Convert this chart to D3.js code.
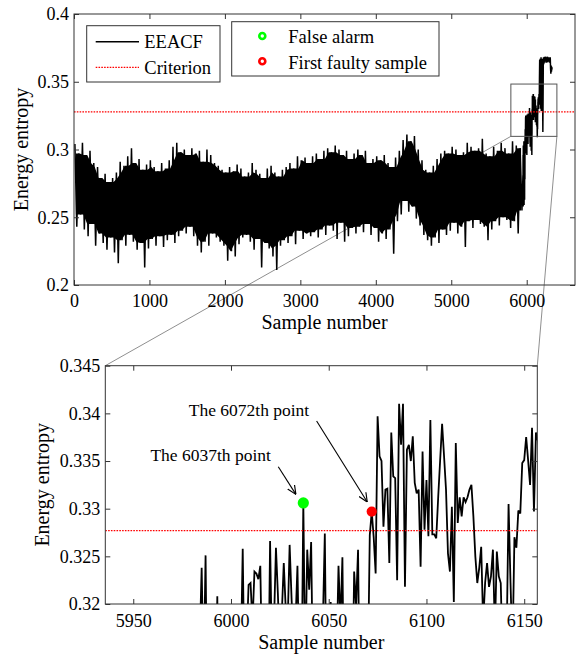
<!DOCTYPE html>
<html>
<head>
<meta charset="utf-8">
<script src="https://cdn.jsdelivr.net/npm/d3@7"></script>
<style>
  body { margin: 0; background: #fff; }
  svg text { font-family: "Liberation Serif", "Times New Roman", serif; fill: #000; }
</style>
</head>
<body>
<svg id="chart" width="577" height="657"></svg>
<script>
// ---------------- data ----------------
// EEACF over the normal operating period, summarised per 50-sample block
// as the block maximum (envelopeHi) and minimum (envelopeLo).
const binSize = 50;
const envelopeHi = [
  0.304, 0.297, 0.305, 0.296, 0.299, 0.290, 0.287, 0.279, 0.282, 0.276,
  0.279, 0.283, 0.291, 0.288, 0.295, 0.301, 0.290, 0.293, 0.285, 0.289,
  0.292, 0.287, 0.284, 0.290, 0.286, 0.292, 0.302, 0.305, 0.298, 0.300,
  0.296, 0.301, 0.297, 0.299, 0.291, 0.300, 0.296, 0.290, 0.288, 0.285,
  0.283, 0.287, 0.284, 0.289, 0.286, 0.280, 0.283, 0.290, 0.285, 0.282,
  0.279, 0.286, 0.288, 0.283, 0.280, 0.285, 0.287, 0.290, 0.286, 0.295,
  0.292, 0.294, 0.290, 0.295, 0.297, 0.293, 0.299, 0.301, 0.298, 0.303,
  0.300, 0.296, 0.299, 0.293, 0.297, 0.300, 0.296, 0.299, 0.290, 0.293,
  0.295, 0.292, 0.296, 0.290, 0.287, 0.294, 0.299, 0.307, 0.311, 0.306,
  0.310, 0.300, 0.292, 0.285, 0.283, 0.288, 0.293, 0.297, 0.299, 0.297,
  0.302, 0.300, 0.296, 0.298, 0.305, 0.302, 0.299, 0.301, 0.308, 0.297,
  0.295, 0.302, 0.299, 0.305, 0.301, 0.297, 0.306, 0.303, 0.301
];
const envelopeLo = [
  0.243, 0.252, 0.241, 0.236, 0.245, 0.229, 0.238, 0.231, 0.226, 0.235,
  0.224, 0.216, 0.233, 0.229, 0.237, 0.232, 0.226, 0.231, 0.213, 0.227,
  0.234, 0.229, 0.236, 0.228, 0.233, 0.237, 0.231, 0.236, 0.240, 0.238,
  0.243, 0.236, 0.229, 0.224, 0.232, 0.229, 0.238, 0.235, 0.232, 0.229,
  0.218, 0.225, 0.221, 0.230, 0.235, 0.237, 0.232, 0.226, 0.234, 0.213,
  0.231, 0.227, 0.221, 0.211, 0.229, 0.233, 0.231, 0.236, 0.230, 0.240,
  0.234, 0.238, 0.236, 0.239, 0.235, 0.241, 0.237, 0.244, 0.240, 0.234,
  0.246, 0.232, 0.236, 0.242, 0.238, 0.243, 0.239, 0.245, 0.237, 0.242,
  0.232, 0.238, 0.234, 0.241, 0.223, 0.247, 0.252, 0.262, 0.254, 0.258,
  0.249, 0.244, 0.237, 0.233, 0.229, 0.235, 0.231, 0.241, 0.237, 0.240,
  0.246, 0.238, 0.243, 0.228, 0.247, 0.242, 0.248, 0.245, 0.243, 0.233,
  0.241, 0.247, 0.244, 0.250, 0.248, 0.242, 0.247, 0.238, 0.255
];

// Sample-by-sample EEACF from sample 5950 to 6156 (ten samples per row).
const detailStart = 5950;
const detailValues = [
  0.281, 0.262, 0.296, 0.258, 0.289, 0.303, 0.270, 0.264, 0.292, 0.277,      // 5950
  0.299, 0.266, 0.284, 0.306, 0.271, 0.259, 0.288, 0.295, 0.268, 0.280,      // 5960
  0.302, 0.275, 0.263, 0.293, 0.285, 0.300, 0.278, 0.305, 0.309, 0.302,      // 5970
  0.315, 0.298, 0.311, 0.305, 0.316, 0.3238, 0.312, 0.3251, 0.305, 0.313,    // 5980
  0.300, 0.317, 0.309, 0.3208, 0.303, 0.314, 0.297, 0.311, 0.306, 0.318,     // 5990
  0.301, 0.312, 0.296, 0.315, 0.308, 0.314, 0.3258, 0.310, 0.316, 0.3220,    // 6000
  0.3222, 0.318, 0.3234, 0.3232, 0.3226, 0.3240, 0.312, 0.304, 0.316, 0.309, // 6010
  0.3266, 0.314, 0.318, 0.3259, 0.3210, 0.315, 0.319, 0.3243, 0.3195, 0.318, // 6020
  0.3262, 0.3205, 0.316, 0.318, 0.3240, 0.312, 0.309, 0.3306, 0.313, 0.3257, // 6030
  0.3215, 0.3265, 0.311, 0.317, 0.305, 0.314, 0.302, 0.318, 0.3274, 0.307,   // 6040
  0.315, 0.3202, 0.310, 0.303, 0.314, 0.3240, 0.318, 0.3249, 0.306, 0.312,   // 6050
  0.299, 0.316, 0.308, 0.3234, 0.3198, 0.3257, 0.307, 0.313, 0.296, 0.310,   // 6060
  0.312, 0.3272, 0.3297, 0.3270, 0.3232, 0.3397, 0.3355, 0.3350, 0.3281, 0.3320, // 6070
  0.3321, 0.3243, 0.3380, 0.3334, 0.3332, 0.3225, 0.3410, 0.3367, 0.3410, 0.3218, // 6080
  0.3362, 0.3367, 0.3350, 0.3376, 0.3327, 0.3316, 0.3320, 0.3239, 0.3360, 0.3278, // 6090
  0.3330, 0.3271, 0.3393, 0.3273, 0.3273, 0.3269, 0.3312, 0.3351, 0.3389, 0.3355, // 6100
  0.3320, 0.3253, 0.3234, 0.3302, 0.3202, 0.3369, 0.3285, 0.3312, 0.3292, 0.3312, // 6110
  0.3307, 0.3312, 0.3320, 0.3325, 0.3292, 0.3250, 0.3222, 0.3238, 0.3260, 0.318,  // 6120
  0.3222, 0.3243, 0.3218, 0.3229, 0.3257, 0.317, 0.3255, 0.3229, 0.3222, 0.314,   // 6130
  0.309, 0.316, 0.3305, 0.3222, 0.315, 0.3270, 0.3259, 0.3298, 0.3295, 0.3348,    // 6140
  0.3351, 0.3375, 0.3351, 0.3325, 0.3385, 0.3297, 0.3380                           // 6150
];

// Faulty period after sample 6156.
const tailSamples = [
  6160, 6163, 6166, 6169, 6172, 6175, 6178, 6181, 6184, 6187,
  6190, 6193, 6196, 6199, 6202, 6205, 6208, 6211, 6214, 6217,
  6220, 6223, 6226, 6229, 6232, 6236, 6240, 6244, 6248, 6252,
  6256, 6260, 6264, 6268, 6272, 6276, 6280, 6284, 6288, 6292,
  6296, 6300, 6304, 6308, 6312, 6316, 6320, 6324, 6328, 6332, 6336
];
const tailValues = [
  0.3345, 0.3410, 0.3330, 0.3520, 0.3660, 0.3440, 0.3670, 0.3300, 0.3650, 0.3350,
  0.3680, 0.3285, 0.3640, 0.3460, 0.3670, 0.3620, 0.3660, 0.3400, 0.3130, 0.3380,
  0.3650, 0.3680, 0.3630, 0.3670, 0.3655, 0.3685, 0.3640, 0.3670, 0.3660, 0.3685,
  0.3650, 0.3675, 0.3640, 0.3680, 0.3660, 0.3685, 0.3645, 0.3670, 0.3655, 0.3680,
  0.3650, 0.3675, 0.3640, 0.3665, 0.3680, 0.3600, 0.3560, 0.3620, 0.3575, 0.3610, 0.3590
];

const criterion = 0.3277;
const falseAlarmSample = 6037;
const firstFaultSample = 6072;

// axis ticks
const topXTicks = [0, 1000, 2000, 3000, 4000, 5000, 6000];
const topYTicks = [0.2, 0.25, 0.3, 0.35, 0.4];
const botXTicks = [5950, 6000, 6050, 6100, 6150];
const botYTicks = [0.32, 0.325, 0.33, 0.335, 0.34, 0.345];

// region of the upper plot enlarged below: [sample range], [value range]
const zoomSamples = [5790, 6400];
const zoomValues = [0.3097, 0.3483];

// ---------------- build series ----------------
const series = [];
envelopeHi.forEach((hi, i) => {
  const start = i * binSize;
  series.push([start + 12, hi]);
  series.push([start + 37, envelopeLo[i]]);
});
detailValues.forEach((v, i) => series.push([detailStart + i, v]));
tailSamples.forEach((s, i) => series.push([s, tailValues[i]]));

// Densely overplotted part of the trace: between neighbouring blocks the line
// is certain to sweep from the lowest of their maxima to the highest of their minima.
const coreBand = envelopeHi.map((hi, i) => {
  const j0 = Math.max(0, i - 1), j1 = Math.min(envelopeHi.length - 1, i + 1);
  const top = Math.min(envelopeHi[j0], hi, envelopeHi[j1]);
  const bot = Math.max(envelopeLo[j0], envelopeLo[i], envelopeLo[j1]);
  return [i * binSize + 25, top, bot];
});

const valueAt = s => detailValues[s - detailStart];

// ---------------- layout ----------------
const svg = d3.select("#chart");
const topBox = { left: 74, right: 575, top: 14, bottom: 285 };
const botBox = { left: 105.3, right: 537.3, top: 365.7, bottom: 604 };

const xTop = d3.scaleLinear().domain([0, 6640]).range([topBox.left, topBox.right]);
const yTop = d3.scaleLinear().domain([0.2, 0.4]).range([topBox.bottom, topBox.top]);
const xBot = d3.scaleLinear().domain([5935.7, 6156.7]).range([botBox.left, botBox.right]);
const yBot = d3.scaleLinear().domain([0.32, 0.345]).range([botBox.bottom, botBox.top]);

const fmt = d => String(+d.toFixed(3));
const frameColor = "#333";
const serif = "Liberation Serif, Times New Roman, serif";

const defs = svg.append("defs");
defs.append("clipPath").attr("id", "clipTop").append("rect")
  .attr("x", topBox.left).attr("y", topBox.top)
  .attr("width", topBox.right - topBox.left).attr("height", topBox.bottom - topBox.top);
defs.append("clipPath").attr("id", "clipBot").append("rect")
  .attr("x", botBox.left).attr("y", botBox.top)
  .attr("width", botBox.right - botBox.left).attr("height", botBox.bottom - botBox.top);
defs.append("marker").attr("id", "arrowHead")
  .attr("viewBox", "0 0 10 10").attr("refX", 10).attr("refY", 5)
  .attr("markerWidth", 9).attr("markerHeight", 9).attr("markerUnits", "userSpaceOnUse")
  .attr("orient", "auto")
  .append("path").attr("d", "M0,0.5 L10,5 L0,9.5").attr("fill", "none")
  .attr("stroke", "#000").attr("stroke-width", 1.3);

// connector lines from the zoom box to the enlarged plot (under the data)
const connectors = [
  [[xTop(zoomSamples[0]), yTop(zoomValues[0])], [botBox.left, botBox.top]],
  [[xTop(zoomSamples[1]), yTop(zoomValues[0])], [botBox.right, botBox.top]]
];
svg.append("g").selectAll("line").data(connectors).join("line")
  .attr("x1", d => d[0][0]).attr("y1", d => d[0][1])
  .attr("x2", d => d[1][0]).attr("y2", d => d[1][1])
  .attr("stroke", "#8f8f8f").attr("stroke-width", 1);

function drawAxes(box, x, y, xTicks, yTicks, padX) {
  const g = svg.append("g");
  const axes = [
    g.append("g").attr("transform", `translate(0,${box.bottom})`)
      .call(d3.axisBottom(x).tickValues(xTicks).tickSizeInner(-5).tickSizeOuter(0)
        .tickPadding(padX).tickFormat(fmt)),
    g.append("g").attr("transform", `translate(0,${box.top})`)
      .call(d3.axisTop(x).tickValues(xTicks).tickSizeInner(-5).tickSizeOuter(0).tickFormat("")),
    g.append("g").attr("transform", `translate(${box.left},0)`)
      .call(d3.axisLeft(y).tickValues(yTicks).tickSizeInner(-5).tickSizeOuter(0)
        .tickPadding(5).tickFormat(fmt)),
    g.append("g").attr("transform", `translate(${box.right},0)`)
      .call(d3.axisRight(y).tickValues(yTicks).tickSizeInner(-5).tickSizeOuter(0).tickFormat(""))
  ];
  axes.forEach(a => a.attr("font-size", 18).attr("font-family", serif));
  g.selectAll(".domain").remove();
  g.selectAll(".tick line").attr("stroke", frameColor);
  g.selectAll(".tick text").attr("fill", "#000");
  g.append("rect").attr("x", box.left).attr("y", box.top)
    .attr("width", box.right - box.left).attr("height", box.bottom - box.top)
    .attr("fill", "none").attr("stroke", frameColor).attr("stroke-width", 1);
  return g;
}

// ---------------- upper plot ----------------
const topData = svg.append("g").attr("clip-path", "url(#clipTop)");
topData.append("path").datum(coreBand)
  .attr("d", d3.area().x(d => xTop(d[0])).y0(d => yTop(d[2])).y1(d => yTop(d[1])))
  .attr("fill", "#000");
topData.append("path").datum(series)
  .attr("d", d3.line().x(d => xTop(d[0])).y(d => yTop(d[1])))
  .attr("fill", "none").attr("stroke", "#000").attr("stroke-width", 1.5);

topData.append("line")
  .attr("x1", topBox.left).attr("x2", topBox.right)
  .attr("y1", yTop(criterion)).attr("y2", yTop(criterion))
  .attr("stroke", "#ff0000").attr("stroke-width", 1.3).attr("stroke-dasharray", "1.6,1.2");

drawAxes(topBox, xTop, yTop, topXTicks, topYTicks, 9.5);

// zoom box
svg.append("rect")
  .attr("x", xTop(zoomSamples[0])).attr("y", yTop(zoomValues[1]))
  .attr("width", xTop(zoomSamples[1]) - xTop(zoomSamples[0]))
  .attr("height", yTop(zoomValues[0]) - yTop(zoomValues[1]))
  .attr("fill", "none").attr("stroke", "#555").attr("stroke-width", 1);

// legends
const leg1 = svg.append("g");
leg1.append("rect").attr("x", 86.7).attr("y", 25.7).attr("width", 133.3).attr("height", 56.3)
  .attr("fill", "#fff").attr("stroke", frameColor);
leg1.append("line").attr("x1", 95.7).attr("x2", 139).attr("y1", 41.7).attr("y2", 41.7)
  .attr("stroke", "#000").attr("stroke-width", 1.4);
leg1.append("line").attr("x1", 95.7).attr("x2", 139).attr("y1", 67.3).attr("y2", 67.3)
  .attr("stroke", "#ff0000").attr("stroke-width", 1.3).attr("stroke-dasharray", "1.6,1.2");
leg1.append("text").attr("x", 144.3).attr("y", 48.3).attr("font-size", 18.5).text("EEACF");
leg1.append("text").attr("x", 144.3).attr("y", 73.8).attr("font-size", 18.5).text("Criterion");

const leg2 = svg.append("g");
leg2.append("rect").attr("x", 231.7).attr("y", 21.7).attr("width", 207.3).attr("height", 54.3)
  .attr("fill", "#fff").attr("stroke", frameColor);
leg2.append("circle").attr("cx", 262.3).attr("cy", 36).attr("r", 3)
  .attr("fill", "#fff").attr("stroke", "#00ff00").attr("stroke-width", 2.6);
leg2.append("circle").attr("cx", 262.3).attr("cy", 61.3).attr("r", 3)
  .attr("fill", "#fff").attr("stroke", "#ff0000").attr("stroke-width", 2.6);
leg2.append("text").attr("x", 288.3).attr("y", 43.3).attr("font-size", 18.5).text("False alarm");
leg2.append("text").attr("x", 288.3).attr("y", 68.6).attr("font-size", 18.5).text("First faulty sample");

// axis titles
svg.append("text").attr("x", (topBox.left + topBox.right) / 2).attr("y", 328.5)
  .attr("text-anchor", "middle").attr("font-size", 20).text("Sample number");
svg.append("text").attr("transform", `translate(27.5,${(topBox.top + topBox.bottom) / 2}) rotate(-90)`)
  .attr("text-anchor", "middle").attr("font-size", 20).text("Energy entropy");

// ---------------- enlarged plot ----------------
const detailSeries = series.filter(d => d[0] >= 5930 && d[0] <= 6160);
const lineBot = d3.line().x(d => xBot(d[0])).y(d => yBot(d[1]));
svg.append("path").datum(detailSeries).attr("clip-path", "url(#clipBot)")
  .attr("d", lineBot).attr("fill", "none").attr("stroke", "#000")
  .attr("stroke-width", 1.8).attr("stroke-linejoin", "miter").attr("stroke-miterlimit", 3);

svg.append("line").attr("clip-path", "url(#clipBot)")
  .attr("x1", botBox.left).attr("x2", botBox.right)
  .attr("y1", yBot(criterion)).attr("y2", yBot(criterion))
  .attr("stroke", "#ff0000").attr("stroke-width", 1.3).attr("stroke-dasharray", "1.6,1.2");

drawAxes(botBox, xBot, yBot, botXTicks, botYTicks, 10);

// alarm markers
svg.append("circle").attr("cx", xBot(falseAlarmSample)).attr("cy", yBot(valueAt(falseAlarmSample)))
  .attr("r", 5.6).attr("fill", "#00ff00");
svg.append("circle").attr("cx", xBot(firstFaultSample)).attr("cy", yBot(valueAt(firstFaultSample)))
  .attr("r", 5.1).attr("fill", "#ff0000");

// annotations: text anchor point and arrow (tail -> head) in data units
const notes = [
  { text: `The ${falseAlarmSample}th point`, at: [5989.6, 0.3350], tail: [6024.2, 0.3344], head: [6033.2, 0.3315] },
  { text: `The ${firstFaultSample}th point`, at: [6009.2, 0.3397], tail: [6043.8, 0.3392], head: [6069.7, 0.3307] }
];
notes.forEach(n => {
  svg.append("text").attr("x", xBot(n.at[0])).attr("y", yBot(n.at[1]))
    .attr("text-anchor", "middle").attr("font-size", 17.5).text(n.text);
  svg.append("line")
    .attr("x1", xBot(n.tail[0])).attr("y1", yBot(n.tail[1]))
    .attr("x2", xBot(n.head[0])).attr("y2", yBot(n.head[1]))
    .attr("stroke", "#000").attr("stroke-width", 1.1).attr("marker-end", "url(#arrowHead)");
});

svg.append("text").attr("x", (botBox.left + botBox.right) / 2).attr("y", 648.5)
  .attr("text-anchor", "middle").attr("font-size", 20).text("Sample number");
svg.append("text").attr("transform", `translate(48.5,${(botBox.top + botBox.bottom) / 2}) rotate(-90)`)
  .attr("text-anchor", "middle").attr("font-size", 20).text("Energy entropy");
</script>
</body>
</html>
